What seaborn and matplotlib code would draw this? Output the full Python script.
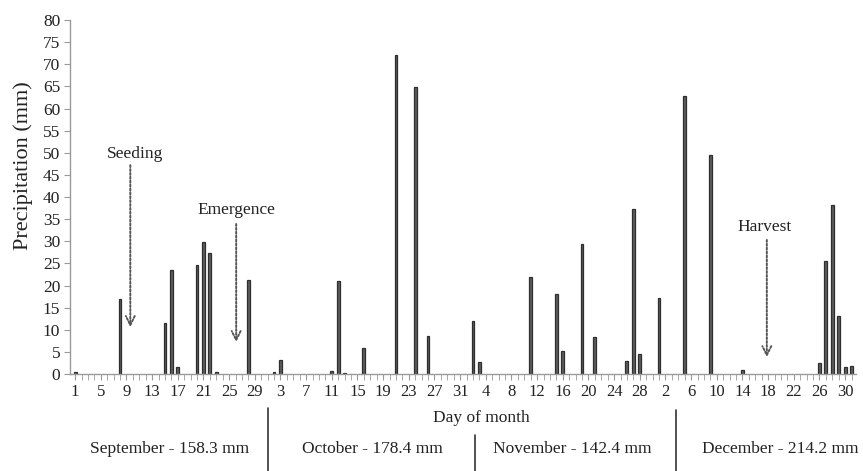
import matplotlib
matplotlib.use("Agg")
import matplotlib.pyplot as plt
import seaborn as sns
import pandas as pd
import numpy as np

# ---- data -------------------------------------------------------------
# day index counted from 1 September (0) to 31 December (121)
rain_day_index = [0, 7, 14, 15, 16, 19, 20, 21, 22, 27,
                  31, 32, 40, 41, 42, 45, 50, 53, 55,
                  62, 63, 71, 75, 76, 79, 81, 86, 87, 88,
                  91, 95, 99, 104, 116, 117, 118, 119, 120, 121]
rain_mm = [0.5, 17.0, 11.5, 23.5, 1.5, 24.7, 29.8, 27.3, 0.5, 21.3,
           0.5, 3.2, 0.6, 21.0, 0.3, 5.9, 72.2, 64.8, 8.6,
           12.0, 2.7, 22.0, 18.0, 5.3, 29.4, 8.3, 2.9, 37.3, 4.5,
           17.2, 62.9, 49.5, 0.8, 2.4, 25.5, 38.2, 13.1, 1.5, 1.9]

tick_index = list(range(0, 121, 4))
tick_labels = ["1", "5", "9", "13", "17", "21", "25", "29",
               "3", "7", "11", "15", "19", "23", "27", "31",
               "4", "8", "12", "16", "20", "24", "28",
               "2", "6", "10", "14", "18", "22", "26", "30"]

month_labels = ["September - 158.3 mm", "October - 178.4 mm",
                "November - 142.4 mm", "December - 214.2 mm"]

events = ["Seeding", "Emergence", "Harvest"]

df = pd.DataFrame({"day": rain_day_index, "mm": rain_mm})

# ---- figure -----------------------------------------------------------
sns.set_style("white")
plt.rcParams["font.family"] = ["Liberation Serif", "DejaVu Serif"]

fig = plt.figure(figsize=(8.63, 4.71), dpi=100)
ax = fig.add_axes([0.0811, 0.2059, 0.9108, 0.7516])

sns.barplot(data=df, x="day", y="mm", native_scale=True, width=0.45,
            color="#5e5e5e", edgecolor="#2e2e2e", linewidth=0.9,
            saturation=1, ax=ax)

ax.set_xlim(-0.8, 121.7)
ax.set_ylim(0, 80)
ax.set_yticks(range(0, 81, 5))
ax.tick_params(axis="y", labelsize=12.5, length=4, color="#9a9a9a",
               labelcolor="#222222", direction="out", left=True, pad=3)

ax.set_xticks(tick_index)
ax.set_xticklabels(tick_labels)
ax.set_xticks(range(0, 122), minor=True)
ax.tick_params(axis="x", which="both", length=4, color="#9a9a9a",
               direction="out", bottom=True)
ax.tick_params(axis="x", which="major", labelsize=12, labelcolor="#222222", pad=3)

for s in ["top", "right"]:
    ax.spines[s].set_visible(False)
for s in ["left", "bottom"]:
    ax.spines[s].set_color("#9a9a9a")
    ax.spines[s].set_linewidth(1.0)

ax.set_xlabel("")
ax.set_ylabel("Precipitation (mm)", fontsize=16, color="#222222")
ax.yaxis.set_label_coords(-0.047, 0.59)

# event annotations (dotted arrows)
ev_x = [8.6, 25.1, 107.8]
ev_top = [47.2, 33.9, 30.3]
ev_bot = [10.6, 7.2, 3.8]
ev_text_x = [9.3, 25.2, 107.5]
ev_text_y = [49.7, 37.1, 33.2]
for name, x, yt, yb, tx, ty in zip(events, ev_x, ev_top, ev_bot, ev_text_x, ev_text_y):
    ax.annotate("", xy=(x, yb), xytext=(x, yt),
                arrowprops=dict(arrowstyle="->", linestyle=(0, (1, 1)),
                                color="#555555", lw=1.4,
                                mutation_scale=16, shrinkA=0, shrinkB=0))
    ax.text(tx, ty, name, ha="center", va="center", fontsize=12.5, color="#222222")

# x-axis title and month captions
fig.text(481 / 863, 1 - 418 / 471, "Day of month", ha="center", va="center",
         fontsize=12.5, color="#222222")
month_cx = [170, 372, 572, 780]
for lab, cx in zip(month_labels, month_cx):
    fig.text(cx / 863, 1 - 449 / 471, lab, ha="center", va="center",
             fontsize=12.5, color="#222222")
for lx, ly in zip([268, 475, 676], [408, 435, 410]):
    fig.add_artist(plt.Line2D([lx / 863, lx / 863], [1 - ly / 471, 0],
                              transform=fig.transFigure, color="#333333", lw=1.2))

fig.savefig("out.png", dpi=100, facecolor="white")
